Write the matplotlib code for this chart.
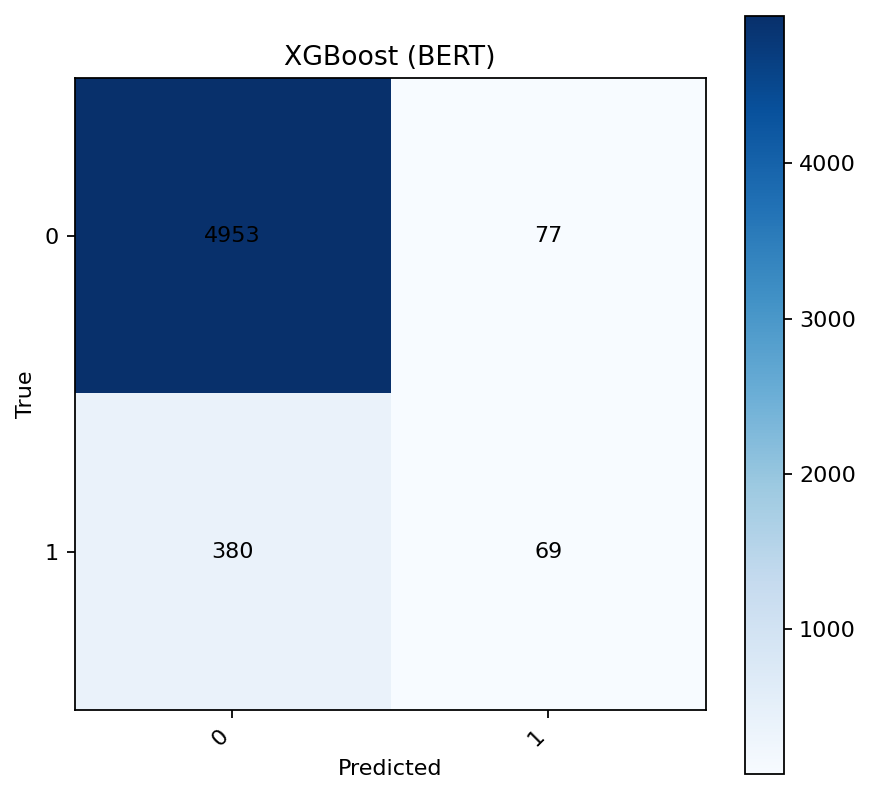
import matplotlib
matplotlib.use("Agg")
import matplotlib.pyplot as plt
import numpy as np

labels = ["0", "1"]
row0 = [4953, 77]
row1 = [380, 69]
title = "XGBoost (BERT)"

cm = np.array([row0, row1])

DPI = 160
fig = plt.figure(figsize=(871/DPI, 795/DPI), dpi=DPI)
ax = fig.add_axes([74.5/871, 85/795, 631.5/871, 632/795])
cax = fig.add_axes([744.5/871, 21.5/795, 39/871, 758/795])

im = ax.imshow(cm, cmap="Blues", interpolation="nearest", aspect="auto")
cb = fig.colorbar(im, cax=cax)
cb.set_ticks([1000, 2000, 3000, 4000])

ax.set_xticks(range(len(labels)))
ax.set_yticks(range(len(labels)))
ax.set_xticklabels(labels, rotation=45, ha="right")
ax.set_yticklabels(labels)
ax.set_xlabel("Predicted")
ax.set_ylabel("True")
ax.set_title(title)

for i in range(cm.shape[0]):
    for j in range(cm.shape[1]):
        ax.text(j, i, str(cm[i, j]), ha="center", va="center", color="black")

fig.savefig("out.png", dpi=DPI)
